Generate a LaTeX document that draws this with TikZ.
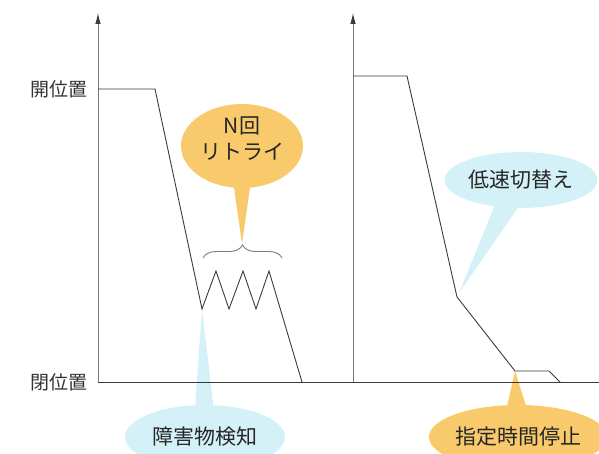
\documentclass[tikz,border=0pt]{standalone}
\usepackage{fontspec}
\setmainfont{Noto Sans CJK JP}
\usetikzlibrary{arrows.meta,shapes.callouts,decorations.pathreplacing}
\definecolor{bubbleorange}{HTML}{F9CA6C}
\definecolor{bubblecyan}{HTML}{D4F1F7}
\definecolor{axisgray}{HTML}{7A7A7A}
\definecolor{curvegray}{HTML}{3A3A3A}
\tikzset{
  axis/.style={draw=axisgray,line width=0.9pt,-{Latex[length=11pt,width=5.5pt,color=curvegray]}},
  curve/.style={draw=curvegray,line width=0.9pt},
  poslabel/.style={anchor=east,inner sep=0pt,text=black!80,font=\fontsize{19}{22}\selectfont},
  bubble/.style={ellipse callout,inner sep=0pt,text=black!85,font=\fontsize{21}{26}\selectfont},
  orangebubble/.style={bubble,fill=bubbleorange},
  cyanbubble/.style={bubble,fill=bubblecyan}
}
\begin{document}
\begin{tikzpicture}[x=1pt,y=-1pt]
    \useasboundingbox (0,0) rectangle (599,454);
    \clip (0,0) rectangle (599,454);

    \coordinate (o1) at (98,382);
    \coordinate (top1) at (98,13);
    \coordinate (o2) at (353,382);
    \coordinate (top2) at (353,13);
    \coordinate (xend) at (599,382);
    \coordinate (hit) at (202,309);
    \coordinate (bracetip) at (242,244);
    \coordinate (slowtip) at (459,293);
    \coordinate (stop) at (515,371);

    \node[orangebubble,minimum width=122pt,minimum height=84pt,
          callout absolute pointer={(bracetip)},callout pointer arc=15] (retry) at (242,146) {};
    \node[bubble,align=center] (retrytext) at (242,139) {N回\\リトライ};
    \node[cyanbubble,minimum width=160pt,minimum height=64pt,
          callout absolute pointer={(hit)},callout pointer arc=13] (detect) at (205,437) {障害物検知};
    \node[cyanbubble,minimum width=153pt,minimum height=56pt,
          callout absolute pointer={(slowtip)},callout pointer arc=18] (slow) at (521,180) {低速切替え};
    \node[orangebubble,minimum width=158pt,minimum height=64pt,
          callout absolute pointer={(stop)},callout pointer arc=12] (hold) at (518,437) {指定時間停止};

    \draw[axis] (o1) -- (top1);
    \draw[axis] (o2) -- (top2);
    \draw[curve] (o1) -- (xend);
    \node[poslabel] (open) at (88,89) {開位置};
    \node[poslabel] (closed) at (88,382) {閉位置};

    \draw[curve] (98,89) -- (155,89) -- (hit) -- (216,271) -- (229,309) -- (243,271)
        -- (256,309) -- (269,271) -- (302,382);
    \draw[curve,draw=axisgray,decorate,decoration={brace,amplitude=13pt}] (203,258) -- (282,258);

    \draw[curve] (353,76) -- (407,76) -- (457,297) -- (stop) -- (549,371) -- (560,382);
\end{tikzpicture}
\end{document}
